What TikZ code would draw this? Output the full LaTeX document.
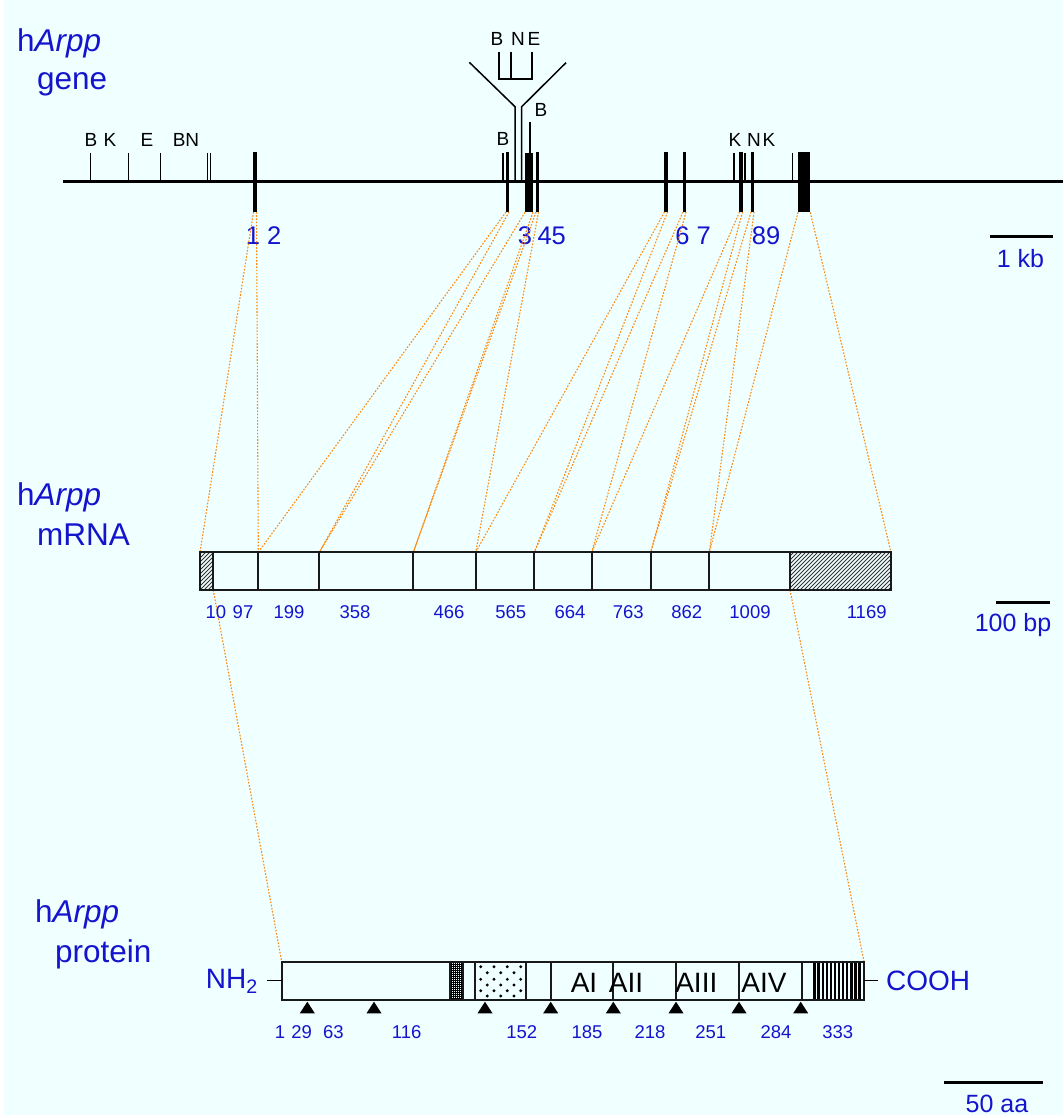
\documentclass[tikz,border=0pt]{standalone}
\usepackage{fontspec}
\setmainfont{Liberation Sans}
\definecolor{bgc}{RGB}{240,255,255}
\definecolor{blueT}{RGB}{20,20,205}
\definecolor{orng}{RGB}{255,135,10}
\begin{document}
\begin{tikzpicture}[x=1pt,y=-1pt,
  big/.style={font=\fontsize{31.5}{36}\selectfont, text=blueT, inner sep=0pt},
  glab/.style={font=\fontsize{25.5}{29}\selectfont, text=blueT, inner sep=0pt},
  slab/.style={font=\fontsize{25}{29}\selectfont, text=blueT, inner sep=0pt},
  nlab/.style={font=\fontsize{18.5}{22}\selectfont, text=blueT, inner sep=0pt},
  site/.style={font=\fontsize{19}{22}\selectfont, text=black, inner sep=0pt},
  dom/.style={font=\fontsize{28}{32}\selectfont, text=black, inner sep=0pt},
  thinsite/.style={line width=1.5pt},
  exonl/.style={line width=3.4pt},
  conn/.style={draw=orng, line width=1.1pt, dash pattern=on 1.6pt off 1.6pt},
  boxl/.style={line width=2.3pt, draw=black!90},
  tri/.style={fill=black}
]
\useasboundingbox (0,0) rectangle (1063,1118);
\fill[white] (0,0) rectangle (1063,1118);
\fill[bgc] (4,0) rectangle (1063,1115);

% ---------------- left labels
\node[big, anchor=base west] (lg1) at (17,52) {h\textit{Arpp}};
\node[big, anchor=base west] (lg2) at (37,90) {gene};
\node[big, anchor=base west] (lm1) at (17,505) {h\textit{Arpp}};
\node[big, anchor=base west] (lm2) at (37,545) {mRNA};
\node[big, anchor=base west] (lp1) at (35,922) {h\textit{Arpp}};
\node[big, anchor=base west] (lp2) at (55,962) {protein};

% ---------------- gene
\draw[line width=3pt] (63,182) -- (1063,182);
\foreach \x in {90.7,128.3,160.7,207.7,210.7,503,734,745,792.7}
  \draw[thinsite] (\x,153) -- (\x,182);
\draw[thinsite] (530,122) -- (530,153);
% exons (lines)
\foreach \x in {255,507.5,666,684.3,741,752.3}
  \draw[exonl] (\x,152) -- (\x,212);
\draw[line width=3pt] (537.2,152) -- (537.2,212);
% exon blocks
\fill (525,152.7) rectangle (533,212.3);
\fill (798,152.3) rectangle (810.3,212.3);
% Y-shaped insert
\draw[line width=1.5pt] (469.3,62.3) -- (515,106.7) -- (515,182);
\draw[line width=1.5pt] (566,62.7) -- (521.7,106.7) -- (521.7,182);
\draw[line width=1.5pt] (499,51.7) -- (499,79) -- (532,79) -- (532,51.7);
\draw[line width=1.5pt] (511,51.7) -- (511,79);
% site labels
\node[site, anchor=base] (sB1) at (91,147) {B};
\node[site, anchor=base] (sK1) at (110,147) {K};
\node[site, anchor=base] (sE1) at (147,147) {E};
\node[site, anchor=base] (sBN) at (186,147) {BN};
\node[site, anchor=base] (sB2) at (503,146) {B};
\node[site, anchor=base] (sB3) at (541,117) {B};
\node[site, anchor=base] (sB4) at (497,46) {B};
\node[site, anchor=base] (sN4) at (518,46) {N};
\node[site, anchor=base] (sE4) at (534,46) {E};
\node[site, anchor=base] (sK5) at (735,147) {K};
\node[site, anchor=base] (sN5) at (754,147) {N};
\node[site, anchor=base] (sK6) at (769,147) {K};
% exon numbers
\node[glab, anchor=base] (g12) at (263.5,244) {1 2};
\node[glab, anchor=base] (g3) at (525,244) {3};
\node[glab, anchor=base] (g45) at (551.7,244) {45};
\node[glab, anchor=base] (g67) at (693,244) {6 7};
\node[glab, anchor=base] (g89) at (766,244) {89};
% scale 1 kb
\draw[line width=3pt] (990,236.7) -- (1052.7,236.7);
\node[slab, anchor=base] (kb) at (1020.5,267) {1 kb};

% ---------------- connector anchor points
\foreach \n/\x/\y in {e1l/253.5/212,e1r/256.5/212,e2l/506/212,e2r/509/212,
  e3l/525/212.3,e3r/533/212.3,e4l/536/212,e4r/538.5/212,e5l/664.5/212,e5r/667.5/212,
  e6l/683/212,e6r/686/212,e7l/739.5/212,e7r/742.5/212,e8l/751/212,e8r/754/212,
  e9l/798/212.3,e9r/810.3/212.3}
  \coordinate (\n) at (\x,\y);
\foreach \n/\x in {m0/200,m1/258.3,m2/319.3,m3/413.3,m4/475.7,m5/534.3,m6/591.7,m7/650.7,m8/709.3,m9/891}
  \coordinate (\n) at (\x,552.3);
\coordinate (u5) at (213.3,590);
\coordinate (u3) at (790,590);
\coordinate (p0) at (281.7,961.7);
\coordinate (p1) at (864,961.7);

\foreach \a/\b in {e1l/m0,e1r/m1,e2l/m1,e2r/m2,e3l/m2,e3r/m3,e4l/m3,e4r/m4,
  e5l/m4,e5r/m5,e6l/m5,e6r/m6,e7l/m6,e7r/m7,e8l/m7,e8r/m8,e9l/m8,e9r/m9}
  \draw[conn] (\a) -- (\b);
\draw[conn] (u5) -- (p0);
\draw[conn] (u3) -- (p1);

% ---------------- mRNA
\begin{scope}
  \clip (200,552.3) rectangle (213.3,590);
  \foreach \i in {160,164,...,216} \draw[line width=0.9pt, black!80] (\i,590) -- ++(38,-38);
\end{scope}
\begin{scope}
  \clip (790,552.3) rectangle (891,590);
  \foreach \i in {748,752,...,896} \draw[line width=0.9pt, black!80] (\i,590) -- ++(38,-38);
\end{scope}
\draw[boxl] (200,552.3) rectangle (891,590);
\foreach \x in {213.3,258.3,319.3,413.3,475.7,534.3,591.7,650.7,709.3,790}
  \draw[boxl] (\x,552.3) -- (\x,590);
\foreach \t/\x in {10/215.8,97/243,199/289,358/355,466/449,565/510.7,664/570,763/628.3,862/686.7,1009/750,1169/866.7}
  \node[nlab, anchor=base] at (\x,618) {\t};
% scale 100 bp
\draw[line width=3pt] (996,602.7) -- (1050,602.7);
\node[slab, anchor=base] (bp) at (1013,631) {100 bp};

% ---------------- protein
% grid hatch
\begin{scope}
  \clip (450,961.7) rectangle (463.3,1000);
  \foreach \x in {451,453,...,463} \draw[line width=0.6pt] (\x,961.7) -- (\x,1000);
  \foreach \y in {962.7,964.7,...,1000} \draw[line width=0.6pt] (450,\y) -- (463.3,\y);
\end{scope}
% stipple
\foreach \y in {966.7,979.3,990.7}
  \foreach \x in {480.7,494,507.3,520.7} \fill (\x,\y) circle (1.6);
\foreach \y in {972.7,985,996}
  \foreach \x in {487.3,500.7,514} \fill (\x,\y) circle (1.6);
% stripes
\foreach \x in {814.5,818.6,...,863} \draw[line width=2.3pt] (\x,961.7) -- (\x,1000);
\draw[boxl] (281.7,961.7) rectangle (864,1000);
\foreach \x in {450,463.3,475,526,550.7,613.3,676,738.7,801.7}
  \draw[boxl] (\x,961.7) -- (\x,1000);
% domain labels
\node[dom] (AI) at (584,983) {AI};
\node[dom] (AII) at (626,983) {AII};
\node[dom] (AIII) at (696.3,983) {AIII};
\node[dom] (AIV) at (764,983) {AIV};
% termini
\node[font=\fontsize{28}{32}\selectfont, text=blueT, inner sep=0pt, anchor=east] (nh) at (258,981) {NH\textsubscript{2}};
\node[font=\fontsize{28}{32}\selectfont, text=blueT, inner sep=0pt, anchor=west] (cooh) at (886,981) {COOH};
\draw[line width=1.5pt] (266.7,980.7) -- (281.7,980.7);
\draw[line width=1.5pt] (864,980.7) -- (878,980.7);
% triangles
\foreach \x in {307.3,374,485,550.7,613.3,676,739,800.7}
  \fill (\x,1001.7) -- (\x+7.5,1013.3) -- (\x-7.5,1013.3) -- cycle;
\foreach \t/\x in {1/280,29/301.7,63/333.3,116/406.7,152/521.7,185/587,218/650,251/710.7,284/776,333/837.7}
  \node[nlab, anchor=base] at (\x,1038) {\t};
% scale 50 aa
\draw[line width=3pt] (944,1082) -- (1043,1082);
\node[slab, anchor=base] (aa) at (997,1112) {50 aa};
\end{tikzpicture}
\end{document}
